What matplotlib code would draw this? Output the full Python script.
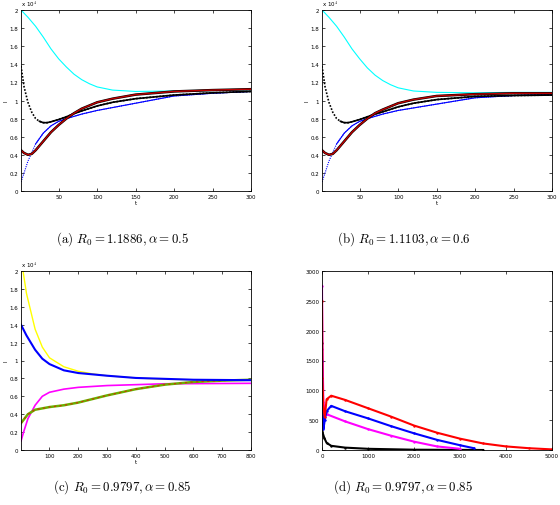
import numpy as np
import matplotlib
matplotlib.use("Agg")
import matplotlib.pyplot as plt

plt.rcParams['mathtext.fontset'] = 'cm'

# (a) R0 = 1.1886, alpha = 0.5   (I in units of 1e4)
ta_cyan = [1, 10, 20, 30, 40, 50, 60, 70, 80, 90, 100, 120, 150, 200, 250, 300]
Ia_cyan = [2.0, 1.92, 1.82, 1.70, 1.57, 1.46, 1.37, 1.29, 1.23, 1.185, 1.15, 1.115, 1.10, 1.105, 1.11, 1.12]
ta_black = [1, 5, 10, 15, 20, 25, 30, 35, 40, 50, 60, 70, 80, 100, 120, 150, 200, 250, 300]
Ia_black = [1.38, 1.15, 0.98, 0.87, 0.80, 0.77, 0.755, 0.755, 0.765, 0.79, 0.82, 0.855, 0.885, 0.94, 0.98, 1.02, 1.06, 1.085, 1.10]
ta_blue = [1, 5, 10, 20, 30, 40, 50, 60, 80, 100, 150, 200, 250, 300]
Ia_blue = [0.10, 0.20, 0.33, 0.52, 0.64, 0.72, 0.77, 0.80, 0.85, 0.89, 0.97, 1.05, 1.08, 1.10]
ta_red = [1, 5, 10, 15, 20, 30, 40, 50, 60, 70, 80, 100, 120, 150, 200, 250, 300]
Ia_red = [0.45, 0.42, 0.40, 0.41, 0.45, 0.55, 0.65, 0.73, 0.80, 0.86, 0.91, 0.98, 1.02, 1.065, 1.10, 1.115, 1.125]

# (b) R0 = 1.1103, alpha = 0.6
tb_cyan = [1, 10, 20, 30, 40, 50, 60, 70, 80, 90, 100, 120, 150, 200, 250, 300]
Ib_cyan = [2.0, 1.92, 1.82, 1.70, 1.57, 1.46, 1.36, 1.28, 1.22, 1.175, 1.14, 1.105, 1.09, 1.085, 1.09, 1.09]
tb_black = [1, 5, 10, 15, 20, 25, 30, 35, 40, 50, 60, 70, 80, 100, 120, 150, 200, 250, 300]
Ib_black = [1.38, 1.15, 0.98, 0.87, 0.80, 0.77, 0.755, 0.755, 0.765, 0.79, 0.82, 0.85, 0.875, 0.93, 0.97, 1.01, 1.045, 1.055, 1.06]
tb_blue = [1, 5, 10, 20, 30, 40, 50, 60, 80, 100, 150, 200, 250, 300]
Ib_blue = [0.10, 0.20, 0.33, 0.52, 0.64, 0.72, 0.77, 0.80, 0.85, 0.89, 0.96, 1.03, 1.055, 1.065]
tb_red = [1, 5, 10, 15, 20, 30, 40, 50, 60, 70, 80, 100, 120, 150, 200, 250, 300]
Ib_red = [0.45, 0.42, 0.40, 0.41, 0.45, 0.55, 0.65, 0.73, 0.80, 0.86, 0.90, 0.97, 1.01, 1.05, 1.07, 1.08, 1.08]

# (c) R0 = 0.9797, alpha = 0.85
tc_yellow = [8, 20, 50, 75, 100, 150, 200, 250, 300, 400, 500, 600, 800]
Ic_yellow = [2.0, 1.75, 1.35, 1.15, 1.03, 0.93, 0.88, 0.85, 0.83, 0.805, 0.79, 0.785, 0.78]
tc_blue = [1, 20, 50, 75, 100, 150, 200, 300, 400, 500, 600, 800]
Ic_blue = [1.40, 1.28, 1.12, 1.02, 0.96, 0.89, 0.86, 0.83, 0.805, 0.795, 0.785, 0.78]
tc_mag = [1, 10, 25, 50, 75, 100, 150, 200, 300, 400, 500, 800]
Ic_mag = [0.10, 0.20, 0.35, 0.50, 0.60, 0.645, 0.68, 0.70, 0.72, 0.73, 0.74, 0.745]
tc_green = [1, 25, 50, 100, 150, 200, 300, 400, 500, 600, 700, 800]
Ic_green = [0.30, 0.40, 0.45, 0.48, 0.50, 0.53, 0.61, 0.68, 0.73, 0.76, 0.775, 0.785]

# (d) R0 = 0.9797, alpha = 0.85
td_red = [0, 10, 30, 60, 100, 200, 500, 1000, 1500, 2000, 2500, 3000, 3500, 4000, 4500, 5000]
Id_red = [2500, 1200, 700, 550, 850, 910, 840, 700, 560, 410, 290, 190, 110, 60, 30, 10]
td_blue = [0, 10, 30, 60, 100, 200, 500, 1000, 1500, 2000, 2500, 3000, 3300]
Id_blue = [1500, 800, 350, 500, 650, 740, 650, 530, 400, 280, 170, 80, 30]
td_mag = [0, 10, 30, 60, 100, 500, 1000, 1500, 2000, 2500, 3000]
Id_mag = [2750, 1700, 800, 650, 600, 480, 350, 240, 140, 60, 20]
td_black = [0, 10, 50, 100, 200, 500, 1000, 2000, 3500]
Id_black = [1800, 300, 200, 120, 70, 40, 20, 5, 0]

fig = plt.figure(figsize=(5.6, 5.06), dpi=100)
W, H = 560., 506.

def make_ax(l, t, r, b):
    ax = fig.add_axes([l / W, 1 - b / H, (r - l) / W, (b - t) / H])
    ax.tick_params(direction='in', top=True, right=True, length=2, width=0.5,
                   labelsize=4, pad=2)
    for s in ax.spines.values():
        s.set_linewidth(0.6)
    return ax

def style_I(ax, xmax, xt):
    ax.set_xlim(1, xmax)
    ax.set_ylim(0, 2)
    ax.set_xticks(xt)
    ax.set_yticks(np.arange(0, 2.01, 0.2))
    ax.set_yticklabels(['0', '0.2', '0.4', '0.6', '0.8', '1', '1.2', '1.4', '1.6', '1.8', '2'])
    ax.set_xlabel('t', fontsize=4, labelpad=1)
    ax.set_ylabel('I', fontsize=4, labelpad=1)
    ax.text(0, 1.01, r'x 10$^4$', transform=ax.transAxes, fontsize=4, va='bottom')

# (a)
ax = make_ax(21, 11, 251, 192)
ax.plot(ta_cyan, Ia_cyan, color='cyan', lw=0.8)
ax.plot(ta_blue, Ia_blue, color='blue', lw=0.8, ls=(0, (1, 1)))
ax.plot(ta_blue[3:], Ia_blue[3:], color='blue', lw=0.8)
ax.plot(ta_black, Ia_black, color='black', lw=1.2, ls=(0, (1, 1)))
ax.plot(ta_black[5:], Ia_black[5:], color='black', lw=1.2)
ax.plot(ta_red, Ia_red, color='black', lw=1.8)
ax.plot(ta_red, Ia_red, color='#c00000', lw=1.0)
style_I(ax, 300, [50, 100, 150, 200, 250, 300])

# (b)
ax = make_ax(322, 11, 552, 192)
ax.plot(tb_cyan, Ib_cyan, color='cyan', lw=0.8)
ax.plot(tb_blue, Ib_blue, color='blue', lw=0.8, ls=(0, (1, 1)))
ax.plot(tb_blue[3:], Ib_blue[3:], color='blue', lw=0.8)
ax.plot(tb_black, Ib_black, color='black', lw=1.2, ls=(0, (1, 1)))
ax.plot(tb_black[5:], Ib_black[5:], color='black', lw=1.2)
ax.plot(tb_red, Ib_red, color='black', lw=1.8)
ax.plot(tb_red, Ib_red, color='#c00000', lw=1.0)
style_I(ax, 300, [50, 100, 150, 200, 250, 300])

# (c)
ax = make_ax(21, 272, 251, 451)
ax.plot(tc_yellow, Ic_yellow, color='yellow', lw=1.0)
ax.plot(tc_mag, Ic_mag, color='magenta', lw=1.2)
ax.plot(tc_green, Ic_green, color='#6ab000', lw=1.8)
ax.plot(tc_green, Ic_green, color='#d03000', lw=0.8, ls=(0, (2, 3)))
ax.plot(tc_blue, Ic_blue, color='blue', lw=1.5)
style_I(ax, 800, [100, 200, 300, 400, 500, 600, 700, 800])

# (d)
ax = make_ax(322, 272, 552, 451)
ax.plot(td_black, Id_black, color='black', lw=1.5, marker='.', ms=1.5)
ax.plot(td_mag, Id_mag, color='magenta', lw=1.5, marker='.', ms=1.5)
ax.plot(td_blue, Id_blue, color='blue', lw=1.5, marker='.', ms=1.5)
ax.plot(td_red, Id_red, color='red', lw=1.5, marker='.', ms=1.5)
ax.set_xlim(0, 5000)
ax.set_ylim(0, 3000)
ax.set_xticks([0, 1000, 2000, 3000, 4000, 5000])
ax.set_yticks(np.arange(0, 3001, 500))

caps = [(122, 239, r'(a) $R_0 = 1.1886, \alpha = 0.5$'),
        (404, 239, r'(b) $R_0 = 1.1103, \alpha = 0.6$'),
        (122, 487, r'(c) $R_0 = 0.9797, \alpha = 0.85$'),
        (403, 487, r'(d) $R_0 = 0.9797, \alpha = 0.85$')]
for x, y, s in caps:
    fig.text(x / W, 1 - y / H, s, fontsize=9.3, family='cmr10', ha='center', va='center')

fig.savefig('out.png', dpi=100)
